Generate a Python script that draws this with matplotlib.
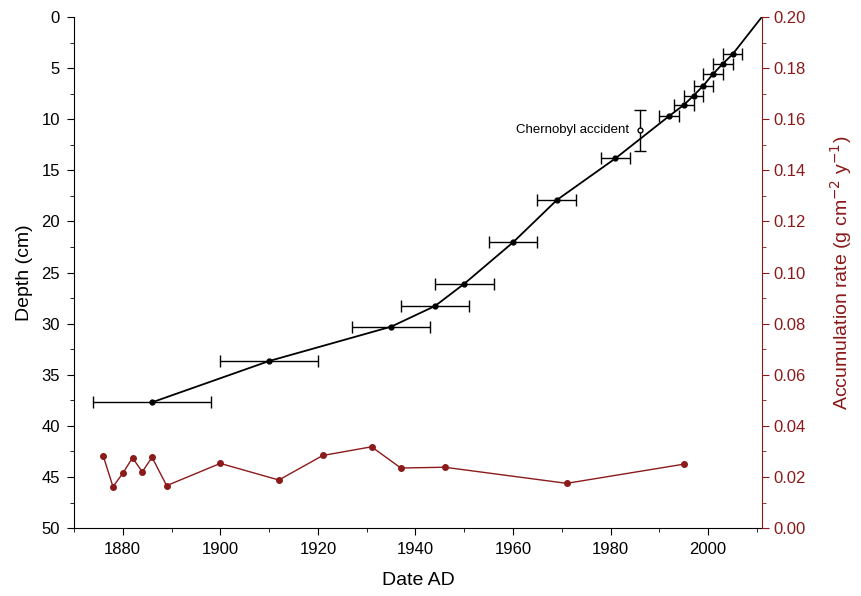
import matplotlib
matplotlib.use("Agg")
import matplotlib.pyplot as plt
from matplotlib.ticker import MultipleLocator, FormatStrFormatter

plt.rcParams['font.family'] = ['Liberation Sans', 'DejaVu Sans']

# Depth-age model (black)
years = [1886, 1910, 1935, 1944, 1950, 1960, 1969, 1981, 1992, 1995, 1997, 1999, 2001, 2003, 2005]
depths = [37.7, 33.66, 30.3, 28.28, 26.1, 22.05, 17.9, 13.83, 9.69, 8.61, 7.70, 6.72, 5.58, 4.57, 3.65]
year_err = [12, 10, 8, 7, 6, 5, 4, 3, 2, 2, 2, 2, 2, 2, 2]
surface_year = 2011
surface_depth = 0

# Chernobyl marker
cher_year = 1986
cher_depth = 11.1
cher_err = 2.0

# Accumulation rate (red)
acc_years = [1876, 1878, 1880, 1882, 1884, 1886, 1889, 1900, 1912, 1921, 1931, 1937, 1946, 1971, 1995]
acc_rate = [0.0282, 0.0162, 0.0214, 0.0275, 0.0220, 0.0277, 0.0166, 0.0253, 0.0188, 0.0284,
            0.0318, 0.0235, 0.0238, 0.0175, 0.0250]

red = '#8b1a1a'

fig = plt.figure(figsize=(8.62, 5.96), dpi=100)
ax = fig.add_axes([0.0858, 0.114, 0.798, 0.8575])

ax.plot(years + [surface_year], depths + [surface_depth], color='black', lw=1.3, zorder=3)
ax.errorbar(years, depths, xerr=year_err, fmt='o', color='black', ms=3.5,
            ecolor='black', elinewidth=1.0, capsize=4, capthick=1.0, zorder=4)
ax.errorbar([cher_year], [cher_depth], yerr=[cher_err], fmt='o', mfc='white', mec='black',
            ms=3.5, ecolor='black', elinewidth=1.0, capsize=4, capthick=1.0, zorder=4)
ax.text(cher_year - 2.3, cher_depth, 'Chernobyl accident', ha='right', va='center', fontsize=9.5)

ax.set_xlim(1870, 2011)
ax.set_ylim(50, 0)
ax.xaxis.set_major_locator(MultipleLocator(20))
ax.xaxis.set_minor_locator(MultipleLocator(10))
ax.yaxis.set_major_locator(MultipleLocator(5))
ax.yaxis.set_minor_locator(MultipleLocator(2.5))
ax.tick_params(axis='both', which='both', direction='out', labelsize=12)
ax.tick_params(which='major', length=5, pad=5)
ax.tick_params(which='minor', length=3)
ax.spines['top'].set_visible(False)
ax.spines['right'].set_visible(False)
ax.set_xlabel('Date AD', fontsize=14, labelpad=11)
ax.set_ylabel('Depth (cm)', fontsize=14, labelpad=6)

ax2 = ax.twinx()
ax2.plot(acc_years, acc_rate, color=red, lw=1.0, marker='o', ms=4, mfc=red, mec=red)
ax2.set_ylim(0, 0.20)
ax2.yaxis.set_major_locator(MultipleLocator(0.02))
ax2.yaxis.set_minor_locator(MultipleLocator(0.01))
ax2.yaxis.set_major_formatter(FormatStrFormatter('%.2f'))
ax2.tick_params(axis='y', which='both', direction='out', labelsize=12, colors=red)
ax2.tick_params(which='major', length=5)
ax2.tick_params(which='minor', length=3)
for s in ['top', 'left', 'bottom']:
    ax2.spines[s].set_visible(False)
ax2.spines['right'].set_color(red)
ax2.set_ylabel('Accumulation rate (g cm$^{-2}$ y$^{-1}$)', fontsize=14, color=red, labelpad=16)

fig.savefig('out.png', dpi=100)
